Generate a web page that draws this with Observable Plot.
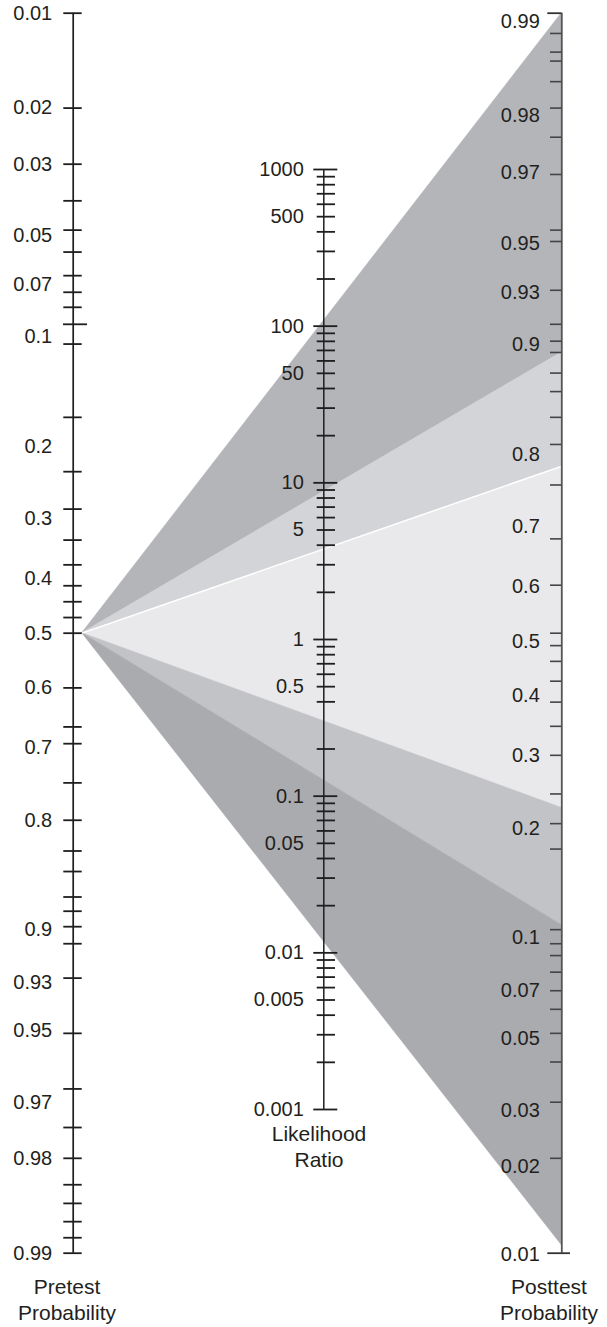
<!DOCTYPE html>
<html>
<head>
<meta charset="utf-8">
<script src="https://cdn.jsdelivr.net/npm/d3@7"></script>
<script src="https://cdn.jsdelivr.net/npm/@observablehq/plot@0.6"></script>
<style>
  body { margin: 0; background: #fff; }
  #wrap { position: relative; width: 607px; height: 1327px; font-family: "Liberation Sans", Arial, sans-serif; color: #231f20; }
  #wrap svg { position: absolute; left: 0; top: 0; }
  .cap { position: absolute; font-size: 21px; line-height: 26px; text-align: center; width: 160px; }
</style>
</head>
<body>
<div id="wrap"></div>
<script>
// ---------------- data ----------------
const pretest = 0.5;
const fanPosttest = [0.99, 0.889, 0.775, 0.215, 0.103, 0.0106];
const fanColors = ["#b4b5b9", "#d3d4d7", "#e9e9eb", "#c2c3c6", "#aaabaf"];
const whiteEdges = [0.775];

const leftLabels = [0.01, 0.02, 0.03, 0.05, 0.07, 0.1, 0.2, 0.3, 0.4, 0.5, 0.6, 0.7, 0.8, 0.9, 0.93, 0.95, 0.97, 0.98, 0.99];
const leftTicks = [0.01, 0.02, 0.03, 0.039, 0.048, 0.056, 0.066, 0.074, 0.082, 0.105, 0.168, 0.232, 0.285, 0.334, 0.376, 0.413, 0.442, 0.471, 0.5,
                   0.6, 0.667, 0.694, 0.752, 0.8, 0.834, 0.854, 0.876, 0.887, 0.898, 0.909, 0.928, 0.951, 0.967, 0.975, 0.98, 0.9835, 0.9856, 0.9874, 0.9888, 0.99];
const leftLongTicks = [0.092];

const rightLabels = [0.99, 0.98, 0.97, 0.95, 0.93, 0.9, 0.8, 0.7, 0.6, 0.5, 0.4, 0.3, 0.2, 0.1, 0.07, 0.05, 0.03, 0.02];
const rightBottomLabel = [0.01];
const rightTicks = [0.9884, 0.9867, 0.9858, 0.9835, 0.98, 0.9753, 0.9677, 0.952, 0.948, 0.927, 0.908, 0.897, 0.889, 0.873, 0.857, 0.832, 0.802, 0.75,
                    0.668, 0.588, 0.5, 0.477, 0.448, 0.412, 0.375, 0.334, 0.288, 0.233, 0.196, 0.168, 0.1, 0.091, 0.084, 0.075, 0.066, 0.058, 0.049, 0.04, 0.03, 0.02];
const rightEndTicks = [0.99, 0.01];

const lrLabels = [1000, 500, 100, 50, 10, 5, 1, 0.5, 0.1, 0.05, 0.01, 0.005, 0.001];
const lrMajorTicks = [1000, 100, 10, 1, 0.1, 0.01, 0.001];
const lrMinorTicks = [900, 800, 700, 600, 500, 400, 300, 200,
                      90, 80, 70, 60, 50, 40, 30, 20,
                      9, 8, 7, 6, 5, 4, 3, 2,
                      0.9, 0.8, 0.7, 0.6, 0.5, 0.4, 0.2,
                      0.09, 0.08, 0.07, 0.06, 0.05, 0.04, 0.03, 0.02,
                      0.009, 0.008, 0.007, 0.006, 0.005, 0.004, 0.003, 0.002];

// ---------------- layout ----------------
const W = 607, H = 1327;
const LEFT_PX = 72.7, RIGHT_PX = 561.3;
const px = n => n / (RIGHT_PX - LEFT_PX);
const X_MID = (323.3 - LEFT_PX) / (RIGHT_PX - LEFT_PX);
const FONT = "Liberation Sans, Arial, Helvetica, sans-serif";
const INK = "#231f20";
const logit = p => Math.log(p / (1 - p));
const fmt = d => String(d);

const xScale = {domain: [0, 1], range: [LEFT_PX, RIGHT_PX], axis: null};

// fan bands
const apexY = -logit(pretest);
const bandPts = fanColors.flatMap((c, i) => [
  {band: i, x: px(9), y1: apexY, y2: apexY, color: c},
  {band: i, x: 1, y1: logit(fanPosttest[i + 1]), y2: logit(fanPosttest[i]), color: c}
]);

const main = Plot.plot({
  width: W, height: H, margin: 0,
  style: {background: "transparent", fontFamily: FONT, overflow: "visible"},
  x: xScale,
  y: {domain: [logit(0.01), logit(0.99)], range: [1252.7, 12.7], axis: null},
  color: {type: "identity"},
  marks: [
    Plot.areaY(bandPts, {x: "x", y1: "y1", y2: "y2", z: "band", fill: "color", stroke: "color", strokeWidth: 0.6}),
    Plot.link(whiteEdges, {x1: px(9), y1: apexY, x2: 1, y2: d => logit(d), stroke: "#ffffff", strokeWidth: 1.3}),
    // left axis (pretest)
    Plot.ruleX([0], {y1: -logit(leftTicks[0]), y2: -logit(leftTicks[leftTicks.length - 1]), stroke: "#1e1e1e", strokeWidth: 1.7}),
    Plot.ruleY(leftTicks, {y: d => -logit(d), x1: -px(9.4), x2: px(9), stroke: "#1e1e1e", strokeWidth: 1.8}),
    Plot.ruleY(leftLongTicks, {y: d => -logit(d), x1: -px(9.7), x2: px(14.3), stroke: "#1e1e1e", strokeWidth: 1.8}),
    Plot.text(leftLabels, {x: 0, y: d => -logit(d), text: fmt, textAnchor: "end", dx: -21, fontSize: 20, fill: INK, fontFamily: FONT}),
    // right axis (posttest)
    Plot.ruleX([1], {y1: logit(rightEndTicks[0]), y2: logit(rightEndTicks[1]), stroke: "#555", strokeWidth: 1.8}),
    Plot.ruleY(rightTicks, {y: d => logit(d), x1: 1 - px(11.3), x2: 1, stroke: "#444", strokeWidth: 1.6}),
    Plot.ruleY(rightEndTicks, {y: d => logit(d), x1: 1 - px(14), x2: d => d < 0.5 ? 1 + px(8.7) : 1, stroke: "#333", strokeWidth: 1.8}),
    Plot.text(rightLabels, {x: 1, y: d => logit(d), text: fmt, textAnchor: "end", dx: -22, dy: 8, fontSize: 20, fill: INK, fontFamily: FONT}),
    Plot.text(rightBottomLabel, {x: 1, y: d => logit(d), text: fmt, textAnchor: "end", dx: -22, dy: 1, fontSize: 20, fill: INK, fontFamily: FONT})
  ]
});

const lr = Plot.plot({
  width: W, height: H, margin: 0,
  style: {background: "transparent", fontFamily: FONT, overflow: "visible"},
  x: xScale,
  y: {type: "log", domain: [0.001, 1000], range: [1109, 169], axis: null},
  marks: [
    Plot.ruleX([X_MID], {y1: lrMajorTicks[lrMajorTicks.length - 1], y2: lrMajorTicks[0], stroke: "#1e1e1e", strokeWidth: 1.5}),
    Plot.ruleY(lrMinorTicks, {y: d => d, x1: X_MID - px(6.6), x2: X_MID + px(11.7), stroke: "#1e1e1e", strokeWidth: 1.8}),
    Plot.ruleY(lrMajorTicks, {y: d => d, x1: X_MID - px(10), x2: X_MID + px(14), stroke: "#1e1e1e", strokeWidth: 1.8}),
    Plot.text(lrLabels, {x: X_MID, y: d => d, text: fmt, textAnchor: "end", dx: -20, fontSize: 20, fill: INK, fontFamily: FONT})
  ]
});

const wrap = document.getElementById("wrap");
wrap.appendChild(main);
wrap.appendChild(lr);

const caps = [
  {lines: ["Pretest", "Probability"], cx: 67, top: 1274},
  {lines: ["Likelihood", "Ratio"], cx: 319, top: 1121},
  {lines: ["Posttest", "Probability"], cx: 549, top: 1274}
];
caps.forEach(c => {
  const d = document.createElement("div");
  d.className = "cap";
  d.style.left = (c.cx - 80) + "px";
  d.style.top = c.top + "px";
  d.innerHTML = c.lines.join("<br>");
  wrap.appendChild(d);
});
</script>
</body>
</html>
